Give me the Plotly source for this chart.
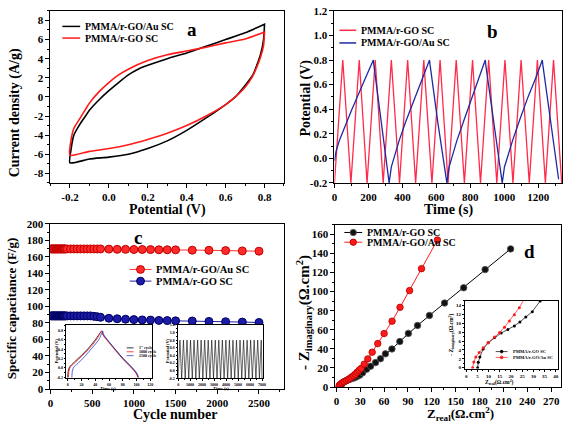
import plotly.graph_objects as go

W, H = 567, 430
FONT = "Liberation Serif"

# ---------------- Panel a : CV ----------------
cv_au_fwd_v = [-0.2, -0.195, -0.18, -0.15, -0.12, -0.1, -0.05, 0.0, 0.05, 0.1, 0.15, 0.2, 0.3, 0.4, 0.5, 0.6, 0.7, 0.8]
cv_au_fwd_i = [-6.9, -5.6, -4.0, -2.9, -2.0, -1.4, -0.3, 0.65, 1.5, 2.3, 2.9, 3.3, 4.0, 4.6, 5.3, 6.0, 6.7, 7.6]
cv_au_rev_v = [0.8, 0.795, 0.78, 0.76, 0.74, 0.7, 0.65, 0.6, 0.5, 0.4, 0.3, 0.2, 0.1, 0.0, -0.1, -0.2]
cv_au_rev_i = [7.6, 6.0, 4.5, 3.3, 2.3, 1.2, 0.0, -0.8, -2.2, -3.5, -4.6, -5.4, -6.0, -6.3, -6.5, -6.9]
cv_go_fwd_v = [-0.2, -0.195, -0.18, -0.15, -0.12, -0.1, -0.05, 0.0, 0.05, 0.1, 0.2, 0.3, 0.4, 0.5, 0.6, 0.7, 0.8]
cv_go_fwd_i = [-6.1, -4.6, -3.3, -2.3, -1.3, -0.65, 0.55, 1.5, 2.3, 2.9, 3.8, 4.4, 4.8, 5.2, 5.65, 6.05, 6.8]
cv_go_rev_v = [0.8, 0.795, 0.78, 0.76, 0.74, 0.7, 0.65, 0.6, 0.5, 0.4, 0.3, 0.2, 0.1, 0.0, -0.1, -0.2]
cv_go_rev_i = [6.8, 5.4, 4.2, 3.1, 2.2, 1.0, 0.0, -0.8, -2.0, -3.0, -3.8, -4.45, -5.0, -5.4, -5.7, -6.1]
a_xticks = [-0.2, 0.0, 0.2, 0.4, 0.6, 0.8]
a_xtext = ["-0.2", "0.0", "0.2", "0.4", "0.6", "0.8"]
a_yticks = [-8, -6, -4, -2, 0, 2, 4, 6, 8]
a_ytext = ["-8", "-6", "-4", "-2", "0", "2", "4", "6", "8"]

# ---------------- Panel b : GCD ----------------
gcd_go_t = [0, 49, 97, 146, 192, 240, 287, 335, 383, 431, 478, 526, 574, 622, 669, 717, 765, 813,
            860, 908, 956, 1004, 1051, 1099, 1147, 1195, 1242, 1290, 1338]
gcd_go_v = [-0.2, 0.8, -0.2, 0.8, -0.2, 0.8, -0.2, 0.8, -0.2, 0.8, -0.2, 0.8, -0.2, 0.8, -0.2, 0.8, -0.2, 0.8,
            -0.2, 0.8, -0.2, 0.8, -0.2, 0.8, -0.2, 0.8, -0.2, 0.8, -0.2]
gcd_au_t = [0, 10, 30, 60, 100, 150, 200, 229, 232, 275, 322,
            335, 350, 380, 420, 470, 520, 560, 563, 610, 662,
            675, 690, 720, 760, 810, 850, 888, 891, 940, 988,
            1001, 1016, 1050, 1090, 1140, 1190, 1224, 1227, 1275, 1320]
gcd_au_v = [-0.02, 0.06, 0.15, 0.26, 0.39, 0.55, 0.70, 0.8, 0.76, 0.3, -0.2,
            -0.07, 0.0, 0.14, 0.30, 0.48, 0.65, 0.8, 0.76, 0.28, -0.2,
            -0.07, 0.0, 0.14, 0.30, 0.49, 0.64, 0.8, 0.76, 0.27, -0.2,
            -0.07, 0.0, 0.15, 0.31, 0.50, 0.67, 0.8, 0.76, 0.28, -0.17]
b_yticks = [-0.2, 0.0, 0.2, 0.4, 0.6, 0.8, 1.0, 1.2]
b_ytext = ["-0.2", "0.0", "0.2", "0.4", "0.6", "0.8", "1.0", "1.2"]

# ---------------- Panel c : cycling ----------------
cyc = [0, 10, 20, 30, 40, 50, 60, 70, 80, 90, 100, 110, 120, 130, 140, 150, 160, 170, 180,
       200, 240, 280, 320, 360, 400, 440, 480, 520, 560, 600,
       700, 800, 900, 1000, 1100, 1200, 1300, 1400, 1500, 1700, 1900, 2100, 2300, 2500]
cap_au = [169.5] * 30 + [169.3, 169.0, 169.0, 168.8, 168.8, 168.7, 168.5, 168.5, 168.4,
                         168.0, 167.9, 167.5, 167.1, 166.8]
cap_go = [88.5] * 27 + [88.0, 87.5, 86.8,
                        85.6, 85.0, 84.5, 84.0, 83.6, 83.4, 83.0, 82.8, 82.5, 82.3, 81.8, 81.4, 81.0, 80.5]

# inset c1 : GCD at cycles
ic1_t1 = [0, 2, 10, 20, 30, 40, 50, 51, 60, 70, 80, 90, 100, 102]
ic1_v1 = [-0.2, 0.0, 0.13, 0.27, 0.42, 0.6, 0.79, 0.72, 0.55, 0.38, 0.21, 0.06, -0.12, -0.2]
ic1_t2 = [1, 3, 11, 21, 31, 41, 50, 51, 60, 70, 80, 90, 100, 102]
ic1_v2 = [-0.2, 0.0, 0.12, 0.26, 0.41, 0.59, 0.79, 0.72, 0.54, 0.36, 0.19, 0.04, -0.13, -0.2]
ic1_t3 = [6, 8, 15, 25, 35, 45, 51, 52, 60, 70, 80, 90, 100, 103]
ic1_v3 = [-0.2, 0.0, 0.1, 0.25, 0.42, 0.6, 0.78, 0.72, 0.56, 0.38, 0.2, 0.06, -0.1, -0.2]
ic1_ticks = [-0.2, 0.0, 0.2, 0.4, 0.6, 0.8]
ic1_text = ["-0.2", "0.0", "0.2", "0.4", "0.6", "0.8"]

# inset c2 : long cycling
ic2_t = [0, 150, 295, 445, 590, 740, 885, 1035, 1180, 1330, 1475, 1625, 1770, 1920, 2065, 2215,
         2360, 2510, 2655, 2805, 2950, 3100, 3245, 3395, 3540, 3690, 3835, 3985, 4130, 4280,
         4425, 4575, 4720, 4870, 5015, 5165, 5310, 5460, 5605, 5755, 5900, 6050, 6195, 6345,
         6490, 6640, 6785, 6935, 7000]
ic2_v = [-0.2, 0.8, -0.2, 0.8, -0.2, 0.8, -0.2, 0.8, -0.2, 0.8, -0.2, 0.8, -0.2, 0.8, -0.2, 0.8,
         -0.2, 0.8, -0.2, 0.8, -0.2, 0.8, -0.2, 0.8, -0.2, 0.8, -0.2, 0.8, -0.2, 0.8,
         -0.2, 0.8, -0.2, 0.8, -0.2, 0.8, -0.2, 0.8, -0.2, 0.8, -0.2, 0.8, -0.2, 0.8,
         -0.2, 0.8, -0.2, 0.8, -0.2]
ic2_ticks = [-0.2, 0.0, 0.2, 0.4, 0.6, 0.8, 1.0, 1.2]
ic2_text = ["-0.2", "0.0", "0.2", "0.4", "0.6", "0.8", "1.0", "1.2"]

# ---------------- Panel d : Nyquist ----------------
zr_go = [5.1, 5.4, 6.1, 7.6, 9.8, 12.7, 15.6, 18.6, 21.5, 24.0, 26.6, 29.5, 33, 38, 43, 49.2, 55.4,
         61.6, 69.8, 79.7, 90.5, 102, 117, 136, 160, 187, 219]
zi_go = [0.0, 1.2, 2.4, 4.2, 5.6, 6.8, 7.8, 8.6, 9.4, 10.3, 11.4, 12.6, 15.0, 18.7, 21.8, 25.6, 29.7,
         34.8, 39.9, 47.7, 56.2, 64.5, 75, 88, 104, 123, 144.7]
zr_au = [2.9, 3.4, 4.3, 5.8, 7.6, 9.8, 12.7, 14.9, 17.1, 19.3, 21.5, 23.7, 26, 28.5, 31, 35, 39.5,
         45, 52, 60, 70, 80, 92, 107, 127]
zi_au = [0.0, 1.3, 2.4, 3.4, 4.5, 5.6, 6.9, 7.9, 9.1, 10.5, 11.9, 13.5, 15.5, 17.5, 19.5, 24, 29.5,
         36.5, 45.5, 56, 69, 83.5, 101, 124, 154]

# ---------------- helpers ----------------
def px_x(p):
    return p / W


def px_y(p):
    return 1 - p / H


def axis(x0, x1, rng, dtick, mdtick, fs, anchor, tickvals=None, ticktext=None, tl=4, horizontal=True):
    d = dict(
        domain=[px_x(x0), px_x(x1)] if horizontal else [px_y(x1), px_y(x0)],
        range=rng, anchor=anchor, showline=True, linecolor="black", linewidth=1, mirror=True,
        ticks="outside", ticklen=tl, tickwidth=1, tickcolor="black", showgrid=False, zeroline=False,
        tickfont=dict(family=FONT, size=fs, color="black", weight="bold"), fixedrange=True,
        minor=dict(dtick=mdtick, ticks="outside", ticklen=tl * 0.55, tickcolor="black", showgrid=False),
        ticklabelstandoff=0,
    )
    if tickvals is not None:
        d.update(tickmode="array", tickvals=tickvals, ticktext=ticktext)
    else:
        d.update(dtick=dtick, tick0=0)
    return d


fig = go.Figure()
RED = "#ff1a1a"

# panel a
fig.add_trace(go.Scatter(x=cv_au_fwd_v + cv_au_rev_v, y=cv_au_fwd_i + cv_au_rev_i, mode="lines",
                         line=dict(color="black", width=1.6, shape="spline", smoothing=0.6),
                         xaxis="x", yaxis="y", showlegend=False))
fig.add_trace(go.Scatter(x=cv_go_fwd_v + cv_go_rev_v, y=cv_go_fwd_i + cv_go_rev_i, mode="lines",
                         line=dict(color=RED, width=1.6, shape="spline", smoothing=0.6),
                         xaxis="x", yaxis="y", showlegend=False))
# panel b
fig.add_trace(go.Scatter(x=gcd_go_t, y=gcd_go_v, mode="lines", line=dict(color="#ff2a4a", width=1.3),
                         xaxis="x2", yaxis="y2", showlegend=False))
fig.add_trace(go.Scatter(x=gcd_au_t, y=gcd_au_v, mode="lines", line=dict(color="#1f2aa0", width=1.3),
                         xaxis="x2", yaxis="y2", showlegend=False))
# panel c
fig.add_trace(go.Scatter(x=cyc, y=cap_au, mode="lines+markers", line=dict(color="#ff3030", width=1),
                         marker=dict(size=8, color="#ff2a2a", line=dict(color="#c00000", width=1)),
                         xaxis="x3", yaxis="y3", showlegend=False))
fig.add_trace(go.Scatter(x=cyc, y=cap_go, mode="lines+markers", line=dict(color="#2020a0", width=1),
                         marker=dict(size=8, color="#1c1ca8", line=dict(color="#000060", width=1)),
                         xaxis="x3", yaxis="y3", showlegend=False))
# inset c1
for t, v, c in [(ic1_t1, ic1_v1, "black"), (ic1_t2, ic1_v2, RED), (ic1_t3, ic1_v3, "#3040d0")]:
    fig.add_trace(go.Scatter(x=t, y=v, mode="lines", line=dict(color=c, width=0.8, shape="spline"),
                             xaxis="x5", yaxis="y5", showlegend=False))
# inset c2
fig.add_trace(go.Scatter(x=ic2_t, y=ic2_v, mode="lines", line=dict(color="black", width=0.6),
                         xaxis="x6", yaxis="y6", showlegend=False))
# panel d
fig.add_trace(go.Scatter(x=zr_go, y=zi_go, mode="lines+markers", line=dict(color="black", width=1),
                         marker=dict(size=6.5, color="#111111", line=dict(color="#555555", width=0.8)),
                         xaxis="x4", yaxis="y4", showlegend=False))
fig.add_trace(go.Scatter(x=zr_au, y=zi_au, mode="lines+markers", line=dict(color=RED, width=1),
                         marker=dict(size=6.5, color=RED, line=dict(color="#b00000", width=0.8)),
                         xaxis="x4", yaxis="y4", showlegend=False))
# inset d
fig.add_trace(go.Scatter(x=zr_go, y=zi_go, mode="lines+markers", line=dict(color="black", width=0.7),
                         marker=dict(size=3, color="black"), xaxis="x7", yaxis="y7", showlegend=False))
fig.add_trace(go.Scatter(x=zr_au, y=zi_au, mode="lines+markers", line=dict(color=RED, width=0.7),
                         marker=dict(size=3, color=RED), xaxis="x7", yaxis="y7", showlegend=False))

layout = dict(
    width=W, height=H, margin=dict(l=0, r=0, t=0, b=0), paper_bgcolor="white", plot_bgcolor="white",
    showlegend=False,
    xaxis=axis(48, 284, [-0.3, 0.9], None, 0.1, 11, "y", a_xticks, a_xtext),
    yaxis=axis(5, 182, [-9, 9], None, 1, 11, "x", a_yticks, a_ytext, horizontal=False),
    xaxis2=axis(335, 565, [0, 1340], 200, 100, 11, "y2"),
    yaxis2=axis(5, 182, [-0.2, 1.2], None, 0.1, 11, "x2", b_yticks, b_ytext, horizontal=False),
    xaxis3=axis(48, 284, [0, 2800], 500, 250, 11, "y3"),
    yaxis3=axis(224, 394, [0, 200], 20, 10, 11, "x3", horizontal=False),
    xaxis4=axis(336, 564, [-1.2, 282.4], 30, 15, 11, "y4"),
    yaxis4=axis(225, 392, [0, 170], 20, 10, 11, "x4", horizontal=False),
    xaxis5=axis(64, 151, [-2, 123], 20, 10, 4, "y5", tl=1.5),
    yaxis5=axis(328, 383, [-0.22, 0.92], None, 0.1, 4, "x5", ic1_ticks, ic1_text, tl=1.5, horizontal=False),
    xaxis6=axis(177, 263, [0, 7100], 1000, 500, 4, "y6", tl=1.5),
    yaxis6=axis(328, 383, [-0.2, 1.2], None, 0.1, 4, "x6", ic2_ticks, ic2_text, tl=1.5, horizontal=False),
    xaxis7=axis(467, 561, [-0.5, 41], 5, 2.5, 5, "y7", tl=2),
    yaxis7=axis(303, 373, [-0.2, 15.1], 2, 1, 5, "x7", tl=2, horizontal=False),
)

ann = []
shapes = []


def text(x, y, s, size, angle=0, xanchor="center", color="black"):
    ann.append(dict(x=px_x(x), y=px_y(y), xref="paper", yref="paper", text=s, showarrow=False,
                    textangle=angle, xanchor=xanchor, yanchor="middle",
                    font=dict(family=FONT, size=size, color=color, weight="bold")))


# axis titles
text(166, 210, "Potential (V)", 14)
text(12.5, 110, "Current density (A/g)", 14, -90)
text(450, 210, "Time (s)", 14)
text(306.5, 95, "Potential (V)", 14, -90)
text(174, 420, "Cycle number", 14)
text(8, 311, "Specific capacitance (F/g)", 13, -90)
text(462, 420, "Z<sub>real</sub>(Ω.cm<sup>2</sup>)", 13)
text(304, 315, "- Z<sub>imaginary</sub>(Ω.cm<sup>2</sup>)", 15, -90)
# inset titles
text(106, 393, "Time (s)", 4.5)
text(54, 355, "Potential (V)", 4.5, -90)
text(220, 393, "Time (s)", 4.5)
text(166, 355, "Potential (V)", 4.5, -90)
text(502, 387, "Z<sub>real</sub>(Ω.cm<sup>2</sup>)", 5.5)
text(453, 338, "- Z<sub>imaginary</sub>(Ω.cm<sup>2</sup>)", 5.5, -90)
# panel letters
text(191, 24, "a", 19)
text(495, 26, "b", 19)
text(136, 238, "c", 19)
text(532, 253, "d", 19)


def legend_item(x0, x1, y, color, label, size, marker=None, lw=1.5, tx=None):
    shapes.append(dict(type="line", xref="paper", yref="paper", x0=px_x(x0), x1=px_x(x1),
                       y0=px_y(y), y1=px_y(y), line=dict(color=color, width=lw)))
    if marker:
        r, mfill, mline = marker
        cx = (x0 + x1) / 2
        shapes.append(dict(type="circle", xref="paper", yref="paper", x0=px_x(cx - r), x1=px_x(cx + r),
                           y0=px_y(y + r), y1=px_y(y - r), fillcolor=mfill, line=dict(color=mline, width=1)))
    text(tx if tx is not None else x1 + 3, y, label, size, xanchor="left")


legend_item(60, 78, 21, "black", "PMMA/r-GO/Au SC", 10)
legend_item(60, 78, 33, RED, "PMMA/r-GO SC", 10)
legend_item(340, 357, 25, "#ff2a4a", "PMMA/r-GO SC", 10)
legend_item(340, 357, 38, "#1f2aa0", "PMMA/r-GO/Au SC", 10)
legend_item(128, 150, 271, "#ff3030", "PMMA/r-GO/Au SC", 10.5, marker=(4, "#ff2a2a", "#c00000"), lw=1)
legend_item(128, 150, 283, "#2020a0", "PMMA/r-GO SC", 10.5, marker=(4, "#1c1ca8", "#000060"), lw=1)
legend_item(345, 363, 233, "black", "PMMA/r-GO SC", 10, marker=(3.2, "#111111", "#555555"), lw=1)
legend_item(345, 363, 243, RED, "PMMA/r-GO/Au SC", 10, marker=(3.2, RED, "#b00000"), lw=1)
legend_item(498, 510, 355.5, "black", "PMMA/r-GO SC", 4.5, marker=(1.3, "black", "black"), lw=0.7)
legend_item(498, 510, 361.5, RED, "PMMA/r-GO/Au SC", 4.5, marker=(1.3, RED, RED), lw=0.7)
legend_item(125, 132, 351.7, "black", "1<sup>st</sup> cycle", 4, lw=0.8)
legend_item(125, 132, 355.7, RED, "1000 cycle", 4, lw=0.8)
legend_item(125, 132, 359.7, "#3040d0", "2500 cycle", 4, lw=0.8)

layout["annotations"] = ann
layout["shapes"] = shapes
fig.update_layout(**layout)
fig.write_html("out.html", config={"displayModeBar": False},
               post_script="document.body.style.margin='0px';")
